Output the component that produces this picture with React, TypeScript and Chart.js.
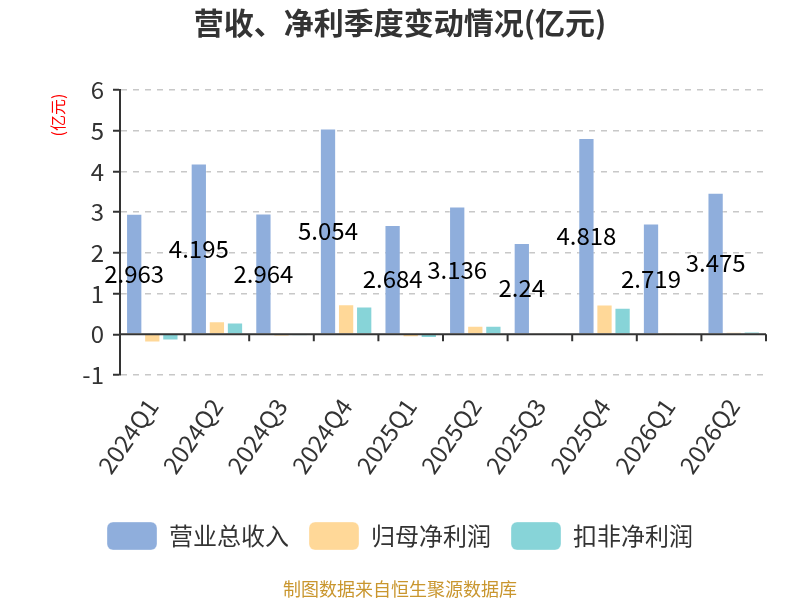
import { useEffect, useRef } from 'react';
import { Chart, registerables } from 'chart.js';
import type { Plugin } from 'chart.js';

Chart.register(...registerables);

const FONT = '"Noto Sans CJK SC", "Noto Sans", sans-serif';

const quarters = [
  '2024Q1', '2024Q2', '2024Q3', '2024Q4', '2025Q1',
  '2025Q2', '2025Q3', '2025Q4', '2026Q1', '2026Q2',
];
const revenue = [2.963, 4.195, 2.964, 5.054, 2.684, 3.136, 2.24, 4.818, 2.719, 3.475];
const netProfit = [-0.2, 0.32, -0.04, 0.74, -0.07, 0.21, 0.005, 0.73, 0.04, 0.06];
const deductedProfit = [-0.15, 0.29, -0.03, 0.68, -0.09, 0.21, 0.01, 0.65, 0.003, 0.07];
const seriesNames = ['营业总收入', '归母净利润', '扣非净利润'];
const seriesColors = ['#8FAEDC', '#FFD898', '#87D4D8'];

const chartTitle = '营收、净利季度变动情况(亿元)';
const unitLabel = '(亿元)';
const sourceNote = '制图数据来自恒生聚源数据库';

const overlay: Plugin<'bar'> = {
  id: 'overlay',
  afterDatasetsDraw(chart) {
    const { ctx, chartArea, scales } = chart;
    const y0 = scales.y.getPixelForValue(0);
    const step = (chartArea.right - chartArea.left) / quarters.length;

    ctx.save();
    ctx.strokeStyle = '#333';
    ctx.lineWidth = 2;
    ctx.beginPath();
    ctx.moveTo(chartArea.left, y0);
    ctx.lineTo(chartArea.right, y0);
    for (let i = 0; i <= quarters.length; i++) {
      const x = chartArea.left + i * step;
      ctx.moveTo(x, y0);
      ctx.lineTo(x, y0 + 7);
    }
    ctx.stroke();

    // value labels in the middle of the revenue bars
    const meta = chart.getDatasetMeta(0);
    ctx.font = `24px ${FONT}`;
    ctx.fillStyle = '#000';
    ctx.textAlign = 'center';
    ctx.textBaseline = 'middle';
    meta.data.forEach((bar, i) => {
      const { x, y, base } = bar.getProps(['x', 'y', 'base'], true);
      ctx.fillText(String(revenue[i]), x, (y + base) / 2);
    });
    ctx.restore();
  },
  afterDraw(chart) {
    const { ctx } = chart;
    ctx.save();
    ctx.textAlign = 'center';
    ctx.textBaseline = 'middle';

    ctx.font = `bold 30px ${FONT}`;
    ctx.fillStyle = '#333';
    ctx.fillText(chartTitle, 400, 23);

    ctx.font = `18px ${FONT}`;
    ctx.fillStyle = '#C9962E';
    ctx.fillText(sourceNote, 400, 589);

    ctx.translate(58, 115);
    ctx.rotate(-Math.PI / 2);
    ctx.font = `16px ${FONT}`;
    ctx.fillStyle = '#FF0000';
    ctx.fillText(unitLabel, 0, 0);
    ctx.restore();
  },
};

export default function App() {
  const canvasRef = useRef<HTMLCanvasElement | null>(null);

  useEffect(() => {
    if (!canvasRef.current) {
      return;
    }

    const chart = new Chart(canvasRef.current, {
      type: 'bar',
      data: {
        labels: quarters,
        datasets: [revenue, netProfit, deductedProfit].map((values, i) => ({
          label: seriesNames[i],
          data: values,
          backgroundColor: seriesColors[i],
          borderColor: 'rgba(255,255,255,0.35)',
          borderWidth: 1,
          categoryPercentage: 0.84,
          barPercentage: 0.9,
        })),
      },
      options: {
        responsive: false,
        animation: false,
        layout: {
          padding: { top: 90, right: 34, bottom: 40, left: 34 },
        },
        scales: {
          x: {
            afterFit: (scale) => {
              scale.height = 127;
            },
            grid: { display: false },
            border: { display: false },
            ticks: {
              autoSkip: false,
              minRotation: 55,
              maxRotation: 55,
              padding: 10,
              color: '#333',
              font: { size: 24, family: FONT },
            },
          },
          y: {
            min: -1,
            max: 6,
            afterFit: (scale) => {
              scale.width = 86;
            },
            ticks: {
              stepSize: 1,
              padding: 9,
              color: '#333',
              font: { size: 24, family: FONT },
            },
            grid: {
              color: (c) => (c.tick && c.tick.value === 0 ? 'rgba(0,0,0,0)' : '#C8C8C8'),
              lineWidth: 1.5,
              tickLength: 7,
              tickColor: '#333',
              tickWidth: 2,
            },
            border: {
              display: true,
              color: '#333',
              width: 2,
              dash: [6, 6],
            },
          },
        },
        plugins: {
          title: { display: false },
          tooltip: { enabled: false },
          legend: {
            position: 'bottom',
            labels: {
              boxWidth: 50,
              boxHeight: 28,
              padding: 20,
              useBorderRadius: true,
              borderRadius: 6,
              color: '#333',
              font: { size: 24, family: FONT },
            },
          },
        },
      },
      plugins: [overlay],
    });

    return () => {
      chart.destroy();
    };
  }, []);

  return (
    <div style={{ position: 'absolute', left: 0, top: 0, width: 800, height: 600, background: '#fff' }}>
      <canvas ref={canvasRef} width={800} height={600} />
    </div>
  );
}
